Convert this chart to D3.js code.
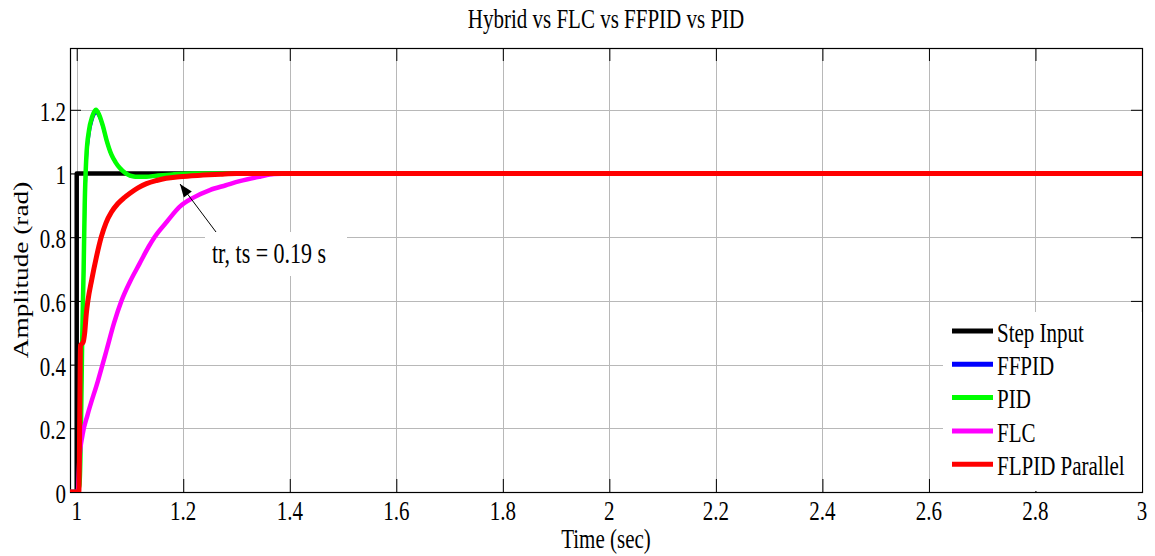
<!DOCTYPE html>
<html>
<head>
<meta charset="utf-8">
<script src="https://cdn.jsdelivr.net/npm/d3@7"></script>
<style>
  html, body { margin: 0; padding: 0; background: #fff; }
  svg { display: block; }
  text { font-family: "Liberation Serif", "Times New Roman", serif; fill: #000; }
</style>
</head>
<body>
<svg id="chart" width="1155" height="556"></svg>
<script>
// ---- data ----
const titleText = "Hybrid vs FLC vs FFPID vs PID";
const xLabel = "Time (sec)";
const yLabel = "Amplitude (rad)";
const xTicks = [1, 1.2, 1.4, 1.6, 1.8, 2, 2.2, 2.4, 2.6, 2.8, 3];
const yTicks = [0, 0.2, 0.4, 0.6, 0.8, 1, 1.2];
const seriesNames = ["Step Input", "FFPID", "PID", "FLC", "FLPID Parallel"];
const seriesColors = ["#000000", "#0000ff", "#00ff00", "#ff00ff", "#ff0000"];

const stepT = [0.9874, 1.0, 1.0, 3.0];
const stepY = [0, 0, 1, 1];

const ffpidT = [0.9874, 1.0, 1.005, 1.008, 1.010, 1.013, 1.015, 1.018, 1.023, 1.029, 1.037, 1.043, 1.050, 1.057, 1.066, 1.074, 1.082, 1.091, 1.100, 1.110, 1.130, 1.150, 1.180, 1.220, 3.0];
const ffpidY = [0, 0, 0.02, 0.2, 0.44, 0.69, 0.88, 1.03, 1.12, 1.168, 1.19, 1.176, 1.142, 1.098, 1.055, 1.032, 1.015, 1.002, 0.993, 0.99, 0.99, 0.993, 0.997, 1.0, 1.0];

const pidT = [0.9874, 1.0, 1.005, 1.008, 1.010, 1.013, 1.015, 1.018, 1.023, 1.029, 1.036, 1.042, 1.049, 1.056, 1.065, 1.073, 1.081, 1.090, 1.100, 1.110, 1.130, 1.150, 1.180, 1.220, 3.0];
const pidY = [0, 0, 0.02, 0.2, 0.45, 0.7, 0.9, 1.05, 1.135, 1.178, 1.2, 1.185, 1.15, 1.105, 1.06, 1.035, 1.017, 1.003, 0.993, 0.99, 0.99, 0.993, 0.997, 1.0, 1.0];

const flcT = [0.9874, 1.002, 1.005, 1.011, 1.020, 1.040, 1.056, 1.070, 1.084, 1.100, 1.118, 1.135, 1.146, 1.170, 1.193, 1.220, 1.250, 1.280, 1.306, 1.344, 1.370, 1.400, 3.0];
const flcY = [0, 0, 0.1, 0.18, 0.24, 0.35, 0.445, 0.53, 0.6, 0.66, 0.717, 0.77, 0.8, 0.85, 0.895, 0.925, 0.948, 0.963, 0.976, 0.99, 0.998, 1.0, 1.0];

const flpidT = [0.9874, 1.004, 1.006, 1.007, 1.012, 1.015, 1.018, 1.021, 1.028, 1.037, 1.046, 1.055, 1.065, 1.077, 1.090, 1.100, 1.115, 1.131, 1.150, 1.168, 1.193, 1.237, 1.270, 1.300, 3.0];
const flpidY = [0, 0, 0.3, 0.46, 0.47, 0.5, 0.56, 0.6, 0.665, 0.738, 0.8, 0.845, 0.878, 0.905, 0.925, 0.938, 0.955, 0.968, 0.978, 0.985, 0.99, 0.995, 0.998, 1.0, 1.0];

const annotationText = "tr, ts = 0.19 s";

// ---- layout ----
const plot = { left: 70, right: 1142, top: 48, bottom: 492 };
const textStretch = 1.3;   // tall, condensed glyphs
const fontSize = 21;

const svg = d3.select("#chart");
const x = d3.scaleLinear().domain([0.9874, 3]).range([plot.left, plot.right]);
const y = d3.scaleLinear().domain([0, 1.394]).range([plot.bottom, plot.top]);

function label(g, txt, px, py, anchor, rotate, size) {
  return g.append("text")
    .attr("font-size", size || fontSize)
    .attr("text-anchor", anchor)
    .attr("transform", rotate
      ? `translate(${px},${py}) rotate(-90) scale(${textStretch},1)`
      : `translate(${px},${py}) scale(1,${textStretch})`)
    .text(txt);
}

// grid
const grid = svg.append("g").attr("shape-rendering", "crispEdges")
  .attr("stroke", "#b8b8b8").attr("stroke-width", 1);
grid.selectAll("line.gx").data(xTicks).join("line")
  .attr("x1", d => Math.round(x(d)) + 0.5).attr("x2", d => Math.round(x(d)) + 0.5)
  .attr("y1", plot.top).attr("y2", plot.bottom);
grid.selectAll("line.gy").data(yTicks).join("line")
  .attr("y1", d => Math.round(y(d)) + 0.5).attr("y2", d => Math.round(y(d)) + 0.5)
  .attr("x1", plot.left).attr("x2", plot.right);

// axes with inward ticks on all four sides
const axisG = svg.append("g");
const xBottom = d3.axisBottom(x).tickValues(xTicks).tickSize(-13).tickFormat(() => "");
const xTop = d3.axisTop(x).tickValues(xTicks).tickSize(-13).tickFormat(() => "");
const yLeft = d3.axisLeft(y).tickValues(yTicks).tickSize(-11).tickFormat(() => "");
const yRight = d3.axisRight(y).tickValues(yTicks).tickSize(-11).tickFormat(() => "");
[[xBottom, `translate(0,${plot.bottom})`], [xTop, `translate(0,${plot.top})`],
 [yLeft, `translate(${plot.left},0)`], [yRight, `translate(${plot.right},0)`]].forEach(([ax, tr]) => {
  const g = axisG.append("g").attr("transform", tr).call(ax);
  g.select(".domain").remove();
  g.selectAll(".tick line").attr("stroke", "#000").attr("stroke-width", 1);
});
axisG.append("rect")
  .attr("x", plot.left + 0.5).attr("y", plot.top + 0.5)
  .attr("width", plot.right - plot.left).attr("height", plot.bottom - plot.top)
  .attr("fill", "none").attr("stroke", "#000").attr("stroke-width", 1.2);

// tick labels
const labels = svg.append("g");
xTicks.forEach(v => label(labels, d3.format("")(v), x(v), 520, "middle"));
yTicks.forEach(v => label(labels, d3.format("")(v), 66, y(v) + 11, "end"));

// titles
label(labels, titleText, (plot.left + plot.right) / 2, 28, "middle");
label(labels, xLabel, (plot.left + plot.right) / 2, 548, "middle");
label(labels, yLabel, 28, (plot.top + plot.bottom) / 2, "middle", true);

// curves
svg.append("defs").append("clipPath").attr("id", "clip")
  .append("rect").attr("x", plot.left).attr("y", plot.top - 4)
  .attr("width", plot.right - plot.left).attr("height", plot.bottom - plot.top + 4);

const series = [
  { t: stepT, v: stepY, curve: d3.curveLinear, w: 4.5 },
  { t: ffpidT, v: ffpidY, curve: d3.curveMonotoneX, w: 3 },
  { t: pidT, v: pidY, curve: d3.curveMonotoneX, w: 4.5 },
  { t: flcT, v: flcY, curve: d3.curveMonotoneX, w: 4.5 },
  { t: flpidT, v: flpidY, curve: d3.curveMonotoneX, w: 5 }
];
const lines = svg.append("g").attr("clip-path", "url(#clip)");
series.forEach((s, i) => {
  const pts = s.t.map((t, j) => [t, s.v[j]]);
  lines.append("path")
    .attr("d", d3.line().x(d => x(d[0])).y(d => y(d[1])).curve(s.curve)(pts))
    .attr("fill", "none")
    .attr("stroke", seriesColors[i])
    .attr("stroke-width", s.w)
    .attr("stroke-linejoin", "round");
});

// annotation with arrow
const ann = svg.append("g");
ann.append("rect").attr("x", 205).attr("y", 232).attr("width", 142).attr("height", 44).attr("fill", "#fff");
label(ann, annotationText, 212, 263, "start", false, 22);
const tip = [180, 184], tail = [216, 232];
ann.append("line").attr("x1", tail[0]).attr("y1", tail[1]).attr("x2", tip[0]).attr("y2", tip[1])
  .attr("stroke", "#000").attr("stroke-width", 1);
const ang = Math.atan2(tail[1] - tip[1], tail[0] - tip[0]);
const hl = 13, hw = 5;
const bx = tip[0] + hl * Math.cos(ang), by = tip[1] + hl * Math.sin(ang);
ann.append("path")
  .attr("d", `M${tip[0]},${tip[1]} L${bx + hw * Math.sin(ang)},${by - hw * Math.cos(ang)} L${bx - hw * Math.sin(ang)},${by + hw * Math.cos(ang)} Z`)
  .attr("fill", "#000");

// legend
const legend = svg.append("g");
legend.append("rect").attr("x", 943).attr("y", 312).attr("width", plot.right - 943).attr("height", plot.bottom - 312 - 1)
  .attr("fill", "#fff");
seriesNames.forEach((name, i) => {
  const base = 341.7 + i * 33.3;
  legend.append("line").attr("x1", 952).attr("x2", 993)
    .attr("y1", base - 10.7).attr("y2", base - 10.7)
    .attr("stroke", seriesColors[i]).attr("stroke-width", 5);
  label(legend, name, 997, base, "start");
});
</script>
</body>
</html>
